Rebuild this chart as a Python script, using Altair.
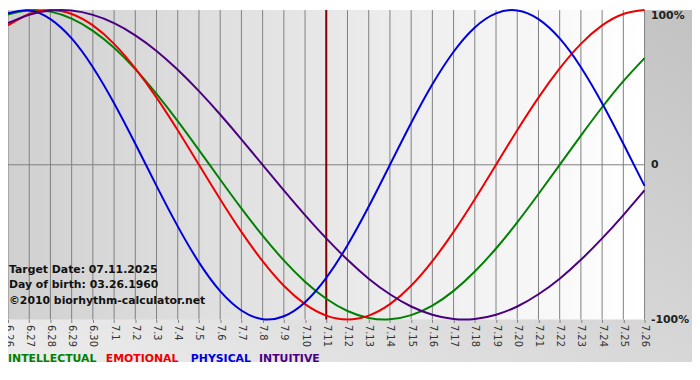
import altair as alt
import pandas as pd

# ---- data ----
dates = ["6.26", "6.27", "6.28", "6.29", "6.30", "7.1", "7.2", "7.3", "7.4", "7.5",
         "7.6", "7.7", "7.8", "7.9", "7.10", "7.11", "7.12", "7.13", "7.14", "7.15",
         "7.16", "7.17", "7.18", "7.19", "7.20", "7.21", "7.22", "7.23", "7.24", "7.25", "7.26"]

intellectual = [0.972, 0.999, 0.990, 0.945, 0.866, 0.756, 0.618, 0.458, 0.282, 0.095, -0.095,
                -0.282, -0.458, -0.618, -0.756, -0.866, -0.945, -0.990, -0.999, -0.972, -0.910,
                -0.815, -0.690, -0.541, -0.372, -0.189, 0.000, 0.189, 0.372, 0.541, 0.690]
emotional = [0.901, 0.975, 1.000, 0.975, 0.901, 0.782, 0.623, 0.434, 0.223, 0.000, -0.223,
             -0.434, -0.623, -0.782, -0.901, -0.975, -1.000, -0.975, -0.901, -0.782, -0.623,
             -0.434, -0.223, 0.000, 0.223, 0.434, 0.623, 0.782, 0.901, 0.975, 1.000]
physical = [0.979, 0.998, 0.942, 0.817, 0.631, 0.398, 0.136, -0.136, -0.398, -0.631, -0.817,
            -0.942, -0.998, -0.979, -0.888, -0.731, -0.520, -0.270, 0.000, 0.270, 0.520,
            0.731, 0.888, 0.979, 0.998, 0.942, 0.817, 0.631, 0.398, 0.136, -0.136]
intuitive = [0.916, 0.969, 0.997, 0.997, 0.969, 0.916, 0.837, 0.736, 0.614, 0.476, 0.325,
             0.165, 0.000, -0.165, -0.325, -0.476, -0.614, -0.736, -0.837, -0.916, -0.969,
             -0.997, -0.997, -0.969, -0.916, -0.837, -0.736, -0.614, -0.476, -0.325, -0.165]

series_names = ["INTELLECTUAL", "EMOTIONAL", "PHYSICAL", "INTUITIVE"]
series_colors = ["#008000", "#ee0000", "#0000dd", "#4b0082"]
series_values = [intellectual, emotional, physical, intuitive]

target_date = "7.11"
y_ticks = [-1, 0, 1]
info_lines = ["Target Date: 07.11.2025", "Day of birth: 03.26.1960", "\u00a92010 biorhythm-calculator.net"]

# ---- layout ----
W, H = 644, 313
PAD_R, PAD_B = 48, 51
info_y = [263, 278, 294]
legend_x = [0, 99, 185, 254]
legend_y = 353

rows = []
for name, vals in zip(series_names, series_values):
    for d, v in zip(dates, vals):
        rows.append({"date": d, "value": v, "series": name})
df = pd.DataFrame(rows)
dates_df = pd.DataFrame({"date": dates})
one = pd.DataFrame({"k": [0]})

xscale = alt.Scale(type="point", padding=0, domain=dates)
xaxis = alt.Axis(title=None, labelAngle=90, labelAlign="left", labelBaseline="middle",
                 labelFontSize=10, labelFont="DejaVu Sans", labelColor="#333333",
                 ticks=True, tickSize=3, tickColor="#808080", labelPadding=2,
                 domain=False, grid=False, labelOverlap=False, zindex=1)
yscale = alt.Scale(domain=[-1, 1], nice=False, zero=False)
yaxis = alt.Axis(title=None, orient="right", values=y_ticks,
                 labelExpr="datum.value == 1 ? '100%' : (datum.value == 0 ? '0' : '-100%')",
                 labelBaseline=alt.ExprRef(expr="datum.value == 1 ? 'top' : 'middle'"),
                 labelFont="DejaVu Sans", labelFontWeight="bold", labelFontSize=11,
                 labelColor="#222222", labelPadding=6, ticks=False, domain=False,
                 grid=False, zindex=1)

xenc = alt.X("date:O", scale=xscale, axis=xaxis, sort=dates)
yenc = alt.Y("value:Q", scale=yscale, axis=yaxis)

outer_grad = alt.Gradient(gradient="linear", x1=0, y1=1, x2=1, y2=0,
                          stops=[alt.GradientStop(color="#ececec", offset=0),
                                 alt.GradientStop(color="#c2c2c2", offset=1)])
plot_grad = alt.Gradient(gradient="linear", x1=0, y1=0, x2=1, y2=0,
                         stops=[alt.GradientStop(color="#d0d0d0", offset=0),
                                alt.GradientStop(color="#ffffff", offset=1)])

bg = alt.Chart(one).mark_rect(fill=outer_grad).encode(
    x=alt.value(0), x2=alt.value(W + PAD_R), y=alt.value(0), y2=alt.value(H + PAD_B - 8))
plot_bg = alt.Chart(one).mark_rect(fill=plot_grad).encode(
    x=alt.value(0), x2=alt.value(W), y=alt.value(0), y2=alt.value(H))

vgrid = alt.Chart(dates_df).mark_rule(color="#808080", strokeWidth=1).encode(x=xenc)
zero = alt.Chart(one).mark_rule(color="#808080", strokeWidth=1).encode(
    y=alt.datum(0, type="quantitative", scale=yscale, axis=yaxis))
target = alt.Chart(one).mark_rule(color="#800000", strokeWidth=2).encode(
    x=alt.datum(target_date, type="ordinal", scale=xscale, axis=xaxis))

lines = alt.Chart(df).mark_line(strokeWidth=2, interpolate="natural").encode(
    x=xenc, y=yenc,
    color=alt.Color("series:N", scale=alt.Scale(domain=series_names, range=series_colors), legend=None),
    detail="series:N")

layers = [bg, plot_bg, vgrid, zero, target, lines]

for txt, ty in zip(info_lines, info_y):
    layers.append(alt.Chart(one).mark_text(align="left", baseline="middle", font="DejaVu Sans",
                                           fontWeight="bold", fontSize=11, color="#111111").encode(
        x=alt.value(1), y=alt.value(ty), text=alt.value(txt)))

for name, col, lx in zip(series_names, series_colors, legend_x):
    layers.append(alt.Chart(one).mark_text(align="left", baseline="middle", font="DejaVu Sans",
                                           fontWeight="bold", fontSize=11, color=col).encode(
        x=alt.value(lx), y=alt.value(legend_y), text=alt.value(name)))

chart = alt.layer(*layers).properties(
    width=W, height=H,
    autosize=alt.AutoSizeParams(type="none"),
    padding={"left": 0, "top": 0, "right": PAD_R, "bottom": PAD_B},
).configure_view(stroke=None)

chart.save("out.html", embed_options={"renderer": "svg", "actions": False})
